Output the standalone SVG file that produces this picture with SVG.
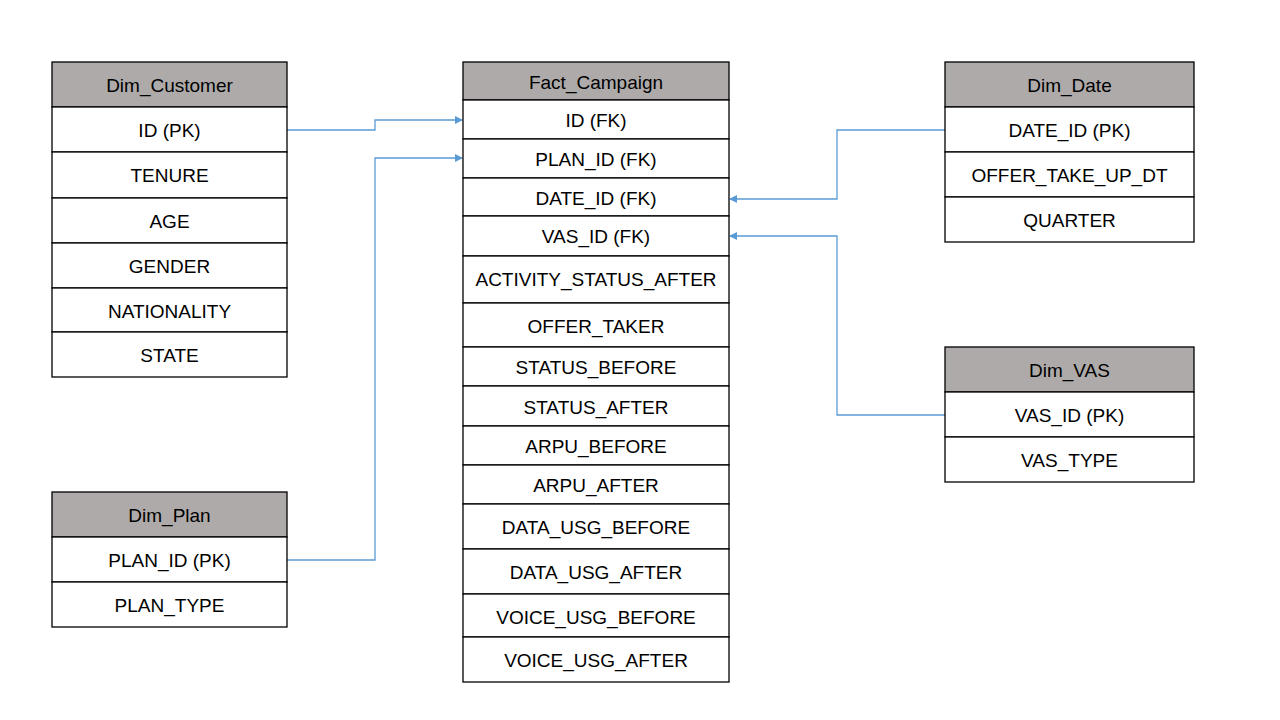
<svg xmlns="http://www.w3.org/2000/svg" width="1280" height="720" viewBox="0 0 1280 720">
<style>
.hd{fill:#AEAAAA;stroke:#000;stroke-width:1.3}
.rw{fill:#fff;stroke:#000;stroke-width:1.3}
text{font-family:"Liberation Sans",Arial,sans-serif;font-size:19px;fill:#000;text-anchor:middle;dominant-baseline:central}
.cn{fill:none;stroke:#5B9BD5;stroke-width:1.3}
</style>
<defs>
<marker id="ah" markerWidth="8" markerHeight="8" refX="7" refY="4" orient="auto" markerUnits="userSpaceOnUse">
<path d="M0,0 L8,4 L0,8 Z" fill="#5B9BD5"/>
</marker>
</defs>
<rect width="1280" height="720" fill="#fff"/>
<g id="connectors">
<path class="cn" d="M287,130 H375 V120 H462" marker-end="url(#ah)"/>
<path class="cn" d="M287,560 H375 V158 H462" marker-end="url(#ah)"/>
<path class="cn" d="M945,130 H837 V199 H730" marker-end="url(#ah)"/>
<path class="cn" d="M945,415 H837 V236 H730" marker-end="url(#ah)"/>
</g>
<g id="dim_customer">
<rect class="hd" x="52" y="62" width="235" height="45"/><text x="169.5" y="85">Dim_Customer</text>
<rect class="rw" x="52" y="107" width="235" height="45"/><text x="169.5" y="130">ID (PK)</text>
<rect class="rw" x="52" y="152" width="235" height="46"/><text x="169.5" y="175">TENURE</text>
<rect class="rw" x="52" y="198" width="235" height="45"/><text x="169.5" y="221">AGE</text>
<rect class="rw" x="52" y="243" width="235" height="45"/><text x="169.5" y="266">GENDER</text>
<rect class="rw" x="52" y="288" width="235" height="44"/><text x="169.5" y="311">NATIONALITY</text>
<rect class="rw" x="52" y="332" width="235" height="45"/><text x="169.5" y="355">STATE</text>
</g>
<g id="dim_plan">
<rect class="hd" x="52" y="492" width="235" height="45"/><text x="169.5" y="515">Dim_Plan</text>
<rect class="rw" x="52" y="537" width="235" height="45"/><text x="169.5" y="560">PLAN_ID (PK)</text>
<rect class="rw" x="52" y="582" width="235" height="45"/><text x="169.5" y="605">PLAN_TYPE</text>
</g>
<g id="fact_campaign">
<rect class="hd" x="463" y="62" width="266" height="38"/><text x="596" y="82">Fact_Campaign</text>
<rect class="rw" x="463" y="100" width="266" height="39"/><text x="596" y="120">ID (FK)</text>
<rect class="rw" x="463" y="139" width="266" height="39"/><text x="596" y="159">PLAN_ID (FK)</text>
<rect class="rw" x="463" y="178" width="266" height="38"/><text x="596" y="198">DATE_ID (FK)</text>
<rect class="rw" x="463" y="216" width="266" height="40"/><text x="596" y="236">VAS_ID (FK)</text>
<rect class="rw" x="463" y="256" width="266" height="47"/><text x="596" y="279">ACTIVITY_STATUS_AFTER</text>
<rect class="rw" x="463" y="303" width="266" height="44"/><text x="596" y="326">OFFER_TAKER</text>
<rect class="rw" x="463" y="347" width="266" height="39"/><text x="596" y="367">STATUS_BEFORE</text>
<rect class="rw" x="463" y="386" width="266" height="40"/><text x="596" y="407">STATUS_AFTER</text>
<rect class="rw" x="463" y="426" width="266" height="39"/><text x="596" y="446">ARPU_BEFORE</text>
<rect class="rw" x="463" y="465" width="266" height="39"/><text x="596" y="485">ARPU_AFTER</text>
<rect class="rw" x="463" y="504" width="266" height="45"/><text x="596" y="527">DATA_USG_BEFORE</text>
<rect class="rw" x="463" y="549" width="266" height="45"/><text x="596" y="572">DATA_USG_AFTER</text>
<rect class="rw" x="463" y="594" width="266" height="43"/><text x="596" y="617">VOICE_USG_BEFORE</text>
<rect class="rw" x="463" y="637" width="266" height="45"/><text x="596" y="660">VOICE_USG_AFTER</text>
</g>
<g id="dim_date">
<rect class="hd" x="945" y="62" width="249" height="45"/><text x="1069.5" y="85">Dim_Date</text>
<rect class="rw" x="945" y="107" width="249" height="45"/><text x="1069.5" y="130">DATE_ID (PK)</text>
<rect class="rw" x="945" y="152" width="249" height="45"/><text x="1069.5" y="175">OFFER_TAKE_UP_DT</text>
<rect class="rw" x="945" y="197" width="249" height="45"/><text x="1069.5" y="220">QUARTER</text>
</g>
<g id="dim_vas">
<rect class="hd" x="945" y="347" width="249" height="45"/><text x="1069.5" y="370">Dim_VAS</text>
<rect class="rw" x="945" y="392" width="249" height="45"/><text x="1069.5" y="415">VAS_ID (PK)</text>
<rect class="rw" x="945" y="437" width="249" height="45"/><text x="1069.5" y="460">VAS_TYPE</text>
</g>
</svg>
